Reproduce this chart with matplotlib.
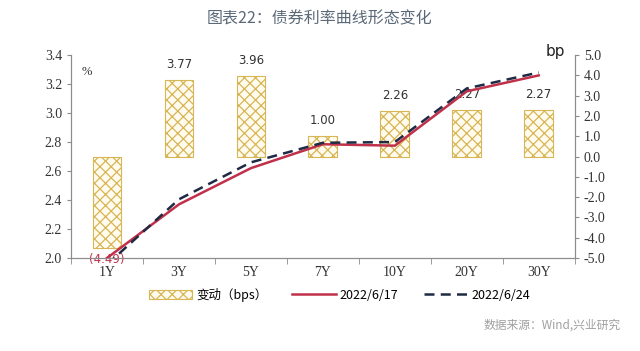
import numpy as np
import matplotlib
matplotlib.use("Agg")
from matplotlib import pyplot as plt
from matplotlib.patches import Patch
from matplotlib.lines import Line2D

plt.rcParams['font.family'] = ['Noto Sans CJK SC', 'DejaVu Sans']
plt.rcParams['hatch.linewidth'] = 0.9

tenors = ["1Y", "3Y", "5Y", "7Y", "10Y", "20Y", "30Y"]
change_bp = [-4.49, 3.77, 3.96, 1.00, 2.26, 2.27, 2.27]
rate_0617 = [2.00, 2.37, 2.62, 2.785, 2.775, 3.15, 3.26]
rate_0624 = [1.955, 2.405, 2.66, 2.795, 2.80, 3.17, 3.28]

gold = "#D8B555"
red = "#C0304A"
navy = "#1F2A44"
axis_gray = "#8C8C8C"

fig = plt.figure(figsize=(6.4, 3.51), dpi=100)
ax = fig.add_axes([0.111, 0.265, 0.787, 0.578])
ax2 = ax.twinx()
ax.set_zorder(ax2.get_zorder() + 1)
ax.patch.set_visible(False)

pos = np.arange(len(tenors))

# bars on the right axis (bp)
ax2.bar(pos, change_bp, width=0.4, facecolor="#FFFCEF", edgecolor=gold,
        hatch="xxx", linewidth=0.8)
for x, v in zip(pos, change_bp):
    if v < 0:
        ax2.text(x, v - 0.25, "({:.2f})".format(abs(v)), ha="center", va="top",
                 fontsize=8.5, color=red, family=["DejaVu Sans"])
    else:
        ax2.text(x, v + 0.45, "{:.2f}".format(v), ha="center", va="bottom",
                 fontsize=8.5, color="#333333", family=["DejaVu Sans"])
ax2.set_ylim(-5, 5)
ax2.set_yticks(np.arange(-5, 5.1, 1))
ax2.set_yticklabels(["{:.1f}".format(t) for t in np.arange(-5, 5.1, 1)])

# yield curves on the left axis (%)
ax.plot(pos, rate_0617, color=red, lw=1.8)
ax.plot(pos, rate_0624, color=navy, lw=1.8, dashes=(4, 2.5))
ax.set_ylim(2.0, 3.4)
ax.set_yticks(np.arange(2.0, 3.41, 0.2))
ax.set_yticklabels(["{:.1f}".format(t) for t in np.arange(2.0, 3.41, 0.2)])
ax.set_xlim(-0.5, len(tenors) - 0.5)
ax.set_xticks(pos)
ax.set_xticklabels(tenors)
ax.set_xticks(np.arange(-0.5, len(tenors), 1), minor=True)
ax.tick_params(axis="x", which="major", length=0, pad=6, labelsize=10, labelcolor="#333333")
ax.tick_params(axis="x", which="minor", length=4, color=axis_gray, direction="out")

for a in (ax, ax2):
    a.spines["top"].set_visible(False)
    for s in ("left", "right", "bottom"):
        a.spines[s].set_color(axis_gray)
    a.tick_params(axis="y", length=3, color=axis_gray, labelsize=10, labelcolor="#333333")
    for lab in a.get_yticklabels() + a.get_xticklabels():
        lab.set_family(["Liberation Serif"])

ax.text(0.022, 0.90, "%", transform=ax.transAxes, fontsize=9, color="#333333",
        family=["Liberation Serif"])
fig.text(0.853, 0.84, "bp", fontsize=11, color="#222222", family=["DejaVu Sans"])

fig.text(0.5, 0.945, "图表22：债券利率曲线形态变化", ha="center", va="center",
         fontsize=11.5, color="#5A6878")

handles = [
    Patch(facecolor="#FFFCEF", edgecolor=gold, hatch="xxx", linewidth=0.8),
    Line2D([], [], color=red, lw=1.8),
    Line2D([], [], color=navy, lw=1.8, dashes=(4, 2.5)),
]
fig.legend(handles, ["变动（bps）", "2022/6/17", "2022/6/24"], loc="center",
           bbox_to_anchor=(0.53, 0.16), ncol=3, frameon=False, fontsize=9,
           handlelength=3.5, columnspacing=2.0, handletextpad=0.3)

fig.text(0.97, 0.075, "数据来源：Wind,兴业研究", ha="right", va="center",
         fontsize=8.5, color="#A0A0A0")

fig.savefig("out.png", dpi=100)
